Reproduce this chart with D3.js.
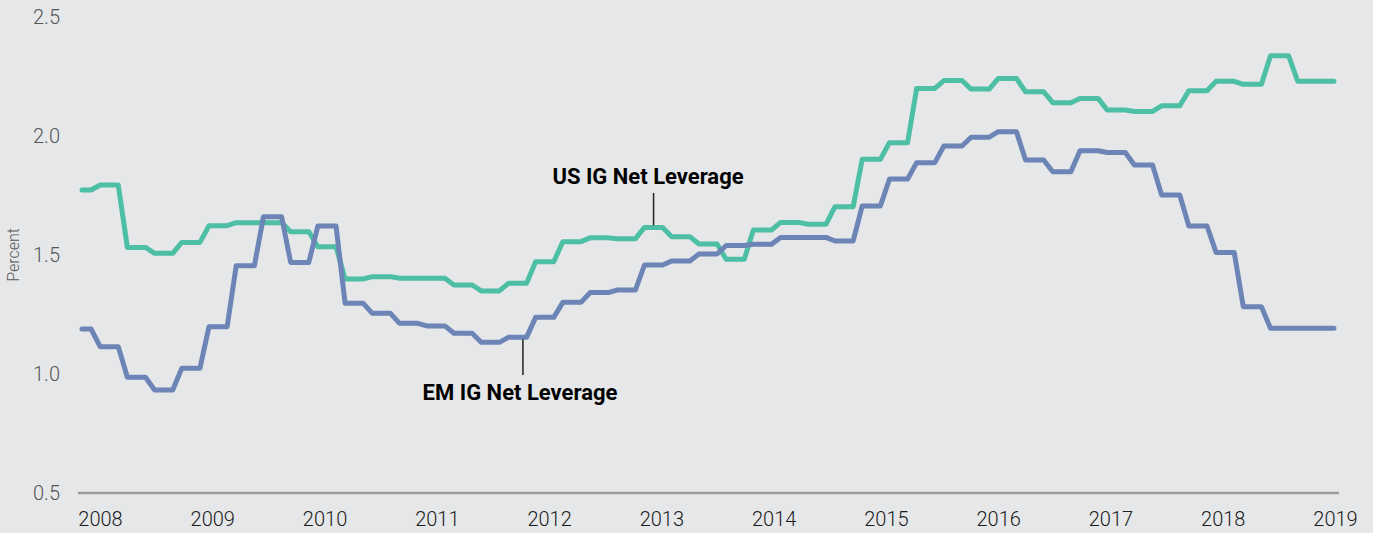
<!DOCTYPE html>
<meta charset="utf-8">
<style>

body {
  margin: 0;
  background: #e6e7e9;
  font-family: Roboto, "Noto Sans", sans-serif;
}

.axis text {
  font: 300 20px Roboto, sans-serif;
}

.axis--y text {
  fill: #555;
}

.axis--x text {
  fill: #1a1a1a;
}

.axis path {
  display: none;
}

.baseline {
  stroke: #9b9b9b;
  stroke-width: 2.5px;
}

.line {
  fill: none;
  stroke-width: 5px;
  stroke-linejoin: round;
  stroke-linecap: round;
}

.line--us { stroke: #4dbfa4; }
.line--em { stroke: #6d84b6; }

.label {
  font: bold 22px Roboto, sans-serif;
  fill: #000;
  text-anchor: middle;
}

.leader {
  stroke: #222;
  stroke-width: 1.5px;
}
</style>
<svg width="1373" height="533"></svg>
<script src="https://cdn.jsdelivr.net/npm/d3@7/dist/d3.min.js"></script>
<script>

// quarterly readings, first one is the partial quarter before 2008
var usLeverage = [1.773, 1.794, 1.532, 1.507, 1.553, 1.623, 1.636, 1.636, 1.598, 1.535,
  1.399, 1.409, 1.402, 1.402, 1.374, 1.349, 1.381, 1.472, 1.556, 1.572,
  1.568, 1.616, 1.577, 1.546, 1.482, 1.605, 1.637, 1.629, 1.703, 1.902,
  1.972, 2.200, 2.233, 2.197, 2.242, 2.186, 2.140, 2.158, 2.109, 2.103,
  2.127, 2.190, 2.230, 2.217, 2.337, 2.230, 2.230];

var emLeverage = [1.189, 1.115, 0.986, 0.933, 1.024, 1.199, 1.455, 1.661, 1.469, 1.622,
  1.297, 1.255, 1.213, 1.202, 1.171, 1.133, 1.154, 1.238, 1.301, 1.342,
  1.353, 1.458, 1.475, 1.504, 1.540, 1.545, 1.574, 1.574, 1.559, 1.706,
  1.819, 1.888, 1.958, 1.995, 2.018, 1.899, 1.850, 1.938, 1.931, 1.878,
  1.752, 1.622, 1.511, 1.283, 1.192, 1.192, 1.192];

var years = ["2008", "2009", "2010", "2011", "2012", "2013", "2014", "2015", "2016", "2017", "2018", "2019"];
var yTicks = [0.5, 1.0, 1.5, 2.0, 2.5];

// monthly series are shown from two months before 2008 to month 136
var firstMonth = -2, lastMonth = 136;

var svg = d3.select("svg");

var x = d3.scaleLinear().domain([firstMonth, lastMonth]).range([82, 1334]),
    xYear = d3.scalePoint().domain(years).range([100, 1335]),
    y = d3.scaleLinear().domain([0.5, 2.5]).range([493, 17]);

// each quarter value is held for three months
function toMonthly(vals) {
  var pts = [];
  vals.forEach(function(v, j) {
    for (var k = 0; k < 3; k++) {
      var m = 3 * (j - 1) + k;
      if (m >= firstMonth && m <= lastMonth) pts.push({m: m, v: v});
    }
  });
  return pts;
}

var line = d3.line()
    .x(function(d) { return x(d.m); })
    .y(function(d) { return y(d.v); });

svg.append("g")
    .attr("class", "axis axis--y")
    .attr("transform", "translate(60,0)")
    .call(d3.axisLeft(y).tickValues(yTicks).tickFormat(d3.format(".1f")).tickSize(0).tickPadding(0));

svg.append("text")
    .attr("transform", "translate(19,255) rotate(-90)")
    .attr("text-anchor", "middle")
    .style("font", "300 16px Roboto, sans-serif")
    .style("fill", "#555")
    .text("Percent");

svg.append("line")
    .attr("class", "baseline")
    .attr("x1", 78).attr("x2", 1339)
    .attr("y1", y(0.5)).attr("y2", y(0.5));

svg.append("g")
    .attr("class", "axis axis--x")
    .attr("transform", "translate(0," + y(0.5) + ")")
    .call(d3.axisBottom(xYear).tickSize(0).tickPadding(19));

svg.append("path")
    .datum(toMonthly(usLeverage))
    .attr("class", "line line--us")
    .attr("d", line);

svg.append("path")
    .datum(toMonthly(emLeverage))
    .attr("class", "line line--em")
    .attr("d", line);

// annotations
var usAt = 61, emAt = 46.6;
var usVal = usLeverage[Math.floor(usAt / 3) + 1],
    emVal = emLeverage[Math.floor(emAt / 3) + 1];

svg.append("line")
    .attr("class", "leader")
    .attr("x1", x(usAt)).attr("x2", x(usAt))
    .attr("y1", 193).attr("y2", y(usVal) - 2);
svg.append("text")
    .attr("class", "label")
    .attr("x", 648).attr("y", 184)
    .text("US IG Net Leverage");

svg.append("line")
    .attr("class", "leader")
    .attr("x1", x(emAt)).attr("x2", x(emAt))
    .attr("y1", y(emVal) + 2).attr("y2", 375);
svg.append("text")
    .attr("class", "label")
    .attr("x", 520).attr("y", 400)
    .text("EM IG Net Leverage");

</script>
